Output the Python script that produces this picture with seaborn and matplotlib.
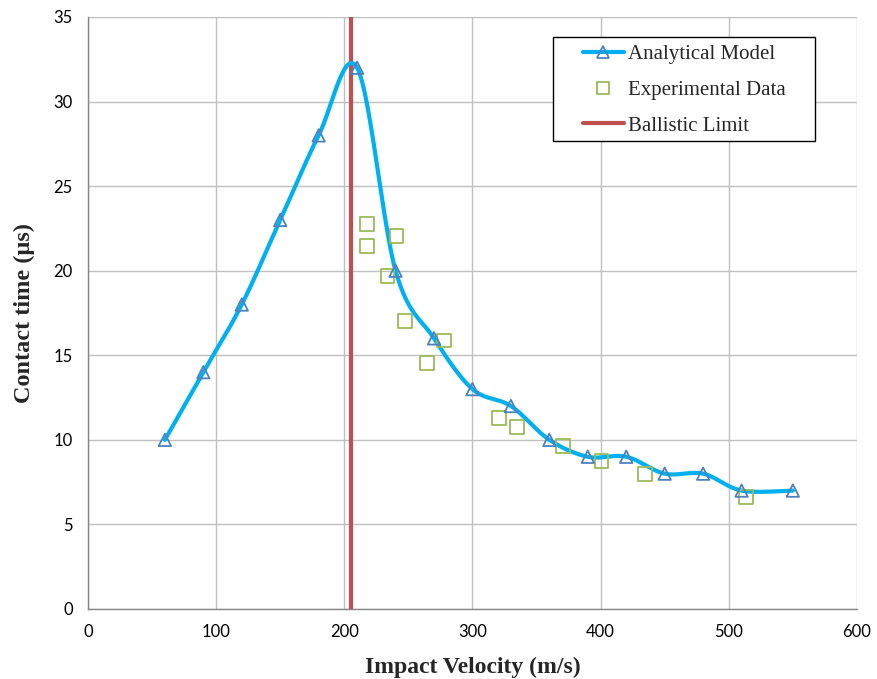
import numpy as np
import pandas as pd
import matplotlib
matplotlib.use("Agg")
import matplotlib.pyplot as plt
from matplotlib.lines import Line2D
from matplotlib.patches import Rectangle
import seaborn as sns

# ---- data ----
model_v = [60, 90, 120, 150, 180, 210, 240, 270, 300, 330, 360, 390, 420, 450, 480, 510, 550]
model_t = [10, 14, 18, 23, 28, 32, 20, 16, 13, 12, 10, 9, 9, 8, 8, 7, 7]
exp_v = [217.7, 217.7, 241, 234, 247.3, 277.8, 264.5, 320.7, 334.7, 370.6, 401, 434.6, 513.4]
exp_t = [22.76, 21.46, 22.05, 19.69, 17.03, 15.85, 14.54, 11.29, 10.76, 9.64, 8.75, 7.98, 6.62]
ballistic_limit = 205
x_ticks = [0, 100, 200, 300, 400, 500, 600]
y_ticks = [0, 5, 10, 15, 20, 25, 30, 35]
labels = ["Analytical Model", "Experimental Data", "Ballistic Limit"]


def excel_smooth(xs, ys, n=40):
    P = np.column_stack([xs, ys]).astype(float)
    ext = np.vstack([P[0], P, P[-1]])
    out = []
    t = np.linspace(0, 1, n)[:, None]
    for i in range(len(P) - 1):
        p0, p1, p2, p3 = ext[i], ext[i + 1], ext[i + 2], ext[i + 3]
        c1 = p1 + (p2 - p0) / 6.0
        c2 = p2 - (p3 - p1) / 6.0
        seg = ((1 - t) ** 3) * p1 + 3 * ((1 - t) ** 2) * t * c1 + 3 * (1 - t) * t ** 2 * c2 + t ** 3 * p2
        out.append(seg if i == 0 else seg[1:])
    return np.vstack(out)


sns.set_theme(style="white")
plt.rcParams["font.family"] = ["Lato", "DejaVu Sans"]

fig = plt.figure(figsize=(8.78, 6.79), dpi=100)
ax = fig.add_axes([0.1002, 0.1031, 0.8758, 0.8719])

curve = excel_smooth(model_v, model_t)
curve_df = pd.DataFrame({"v": curve[:, 0], "t": curve[:, 1]})
model_df = pd.DataFrame({"v": model_v, "t": model_t})
exp_df = pd.DataFrame({"v": exp_v, "t": exp_t})

line_col = "#00b0f0"
tri_col = "#4f81bd"
sq_col = "#9bbb59"
red_col = "#c0504d"

ax.axvline(ballistic_limit, color=red_col, lw=3.0, zorder=2)
sns.lineplot(data=curve_df, x="v", y="t", sort=False, estimator=None, color=line_col, lw=3.0, ax=ax, zorder=3)
sns.scatterplot(data=exp_df, x="v", y="t", marker="s", s=90, facecolors="none", edgecolor=sq_col,
                linewidth=1.3, ax=ax, zorder=4)
sns.scatterplot(data=model_df, x="v", y="t", marker="^", s=80, facecolors="none", edgecolor=tri_col,
                linewidth=1.3, ax=ax, zorder=5)

ax.set_xlim(0, 600)
ax.set_ylim(0, 35)
ax.set_xticks(x_ticks)
ax.set_yticks(y_ticks)
ax.grid(True, color="#c0c0c0", lw=1.0)
ax.set_axisbelow(True)
for s in ["top", "right"]:
    ax.spines[s].set_visible(False)
for s in ["left", "bottom"]:
    ax.spines[s].set_color("#868686")
    ax.spines[s].set_linewidth(1.0)
ax.tick_params(axis="both", which="major", direction="out", length=5, width=1, color="#868686",
               labelsize=12, labelcolor="#000000", pad=6)

ax.set_xlabel("Impact Velocity (m/s)", fontsize=17, fontweight="bold", family=["Liberation Serif"], labelpad=12)
ax.set_ylabel("Contact time (µs)", fontsize=17.5, fontweight="bold", family=["Liberation Serif"], labelpad=13)

# legend box
box = Rectangle((0.6047, 0.7905), 0.3407, 0.1757, transform=ax.transAxes, facecolor="white",
                edgecolor="black", lw=1.0, zorder=6, clip_on=False)
ax.add_patch(box)

handles = [
    Line2D([], [], color=line_col, lw=3.0, marker="^", markersize=9, markerfacecolor="none",
           markeredgecolor=tri_col, markeredgewidth=1.3),
    Line2D([], [], lw=0, marker="s", markersize=9, markerfacecolor="none", markeredgecolor=sq_col,
           markeredgewidth=1.3),
    Line2D([], [], color=red_col, lw=3.0),
]
leg = ax.legend(handles, labels, loc="upper left", bbox_to_anchor=(0.6437, 0.9537), frameon=False,
                borderpad=0, borderaxespad=0, labelspacing=0.78,
                handlelength=1.95, handletextpad=0.2, prop={"family": "Liberation Serif", "size": 15})
leg.set_zorder(7)

fig.savefig("out.png", dpi=100)
